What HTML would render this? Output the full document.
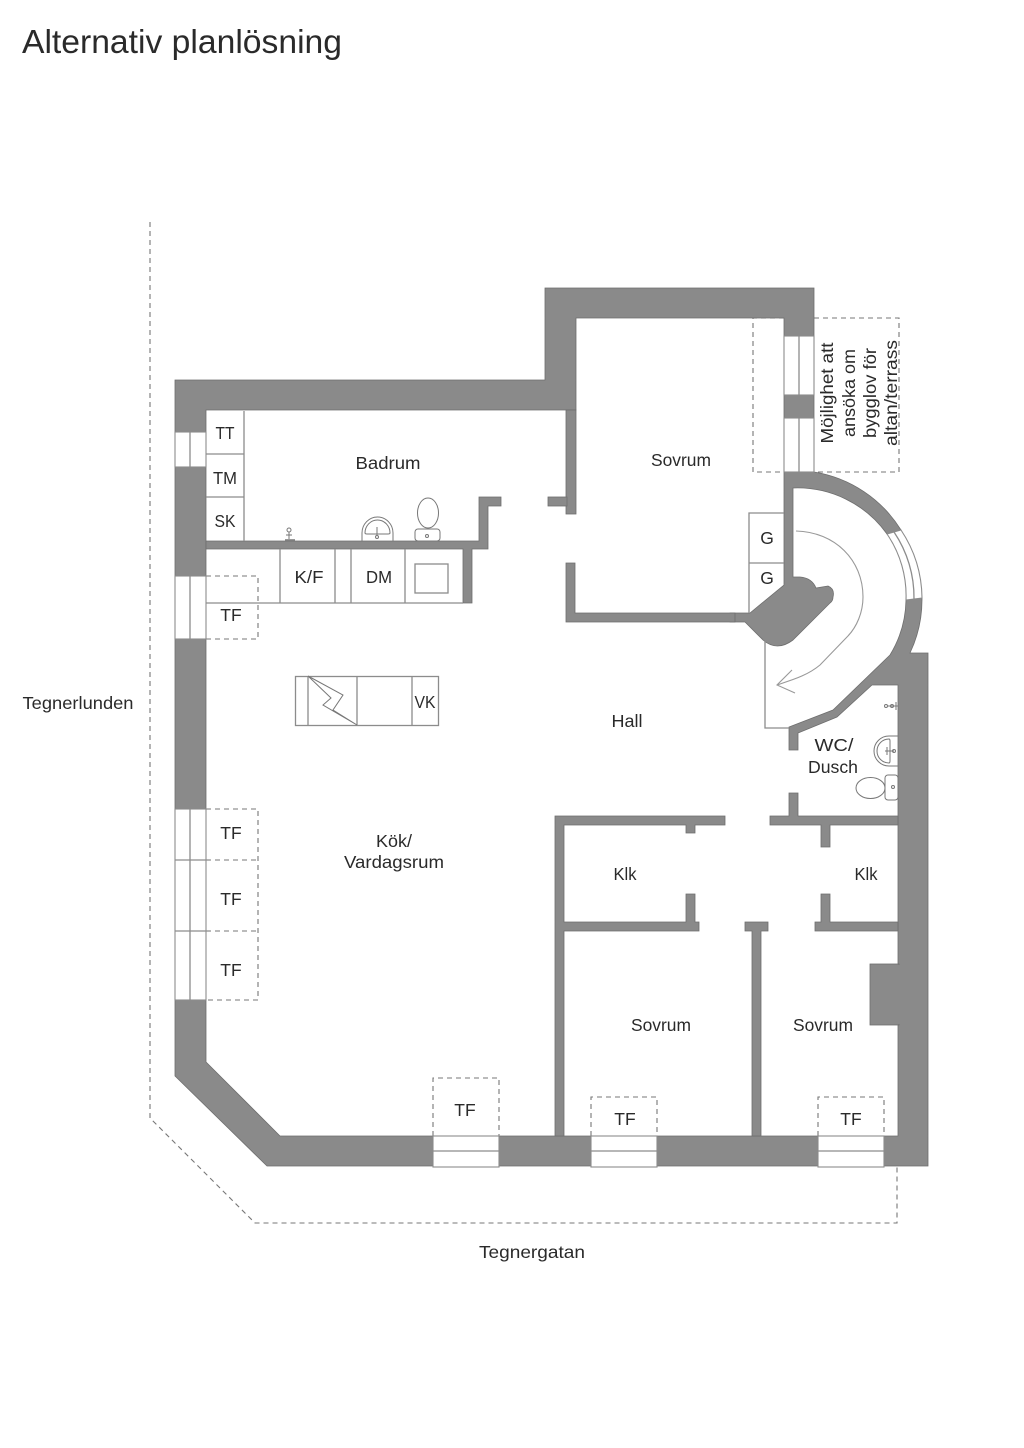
<!DOCTYPE html>
<html><head><meta charset="utf-8"><style>
html,body{margin:0;padding:0;background:#fff}
svg{display:block}
text{font-family:"Liberation Sans",sans-serif;fill:#2a2a2a;font-size:17.5px;text-anchor:middle}
.w{fill:#8a8a8a;stroke:#6e6e6e;stroke-width:.8}
.l{fill:none;stroke:#8c8c8c;stroke-width:1.3}
.f{fill:#fff;stroke:#8c8c8c;stroke-width:1.1}
.d{fill:none;stroke:#777;stroke-width:1.1;stroke-dasharray:5 4}
</style></head><body>
<svg width="1024" height="1448" viewBox="0 0 1024 1448" xmlns="http://www.w3.org/2000/svg">
<rect width="1024" height="1448" fill="#fff"/>
<text x="22" y="53" style="font-size:33px;text-anchor:start" textLength="320" lengthAdjust="spacingAndGlyphs">Alternativ planlösning</text>

<!-- site boundary -->
<path class="d" d="M150 222V1118L255 1223H897V1167"/>

<!-- dashed balcony -->
<path class="d" d="M784 318H753V472H784M814 318H899V472H814"/>
<path class="d" d="M206 576H258V639H206"/>
<path class="d" d="M206 809H258V1000H206M206 860H258M206 931H258"/>
<path class="d" d="M433 1136V1078H499V1136"/>
<path class="d" d="M591 1136V1097H657V1136"/>
<path class="d" d="M818 1136V1097H884V1136"/>

<!-- outer walls -->
<path class="w" d="M175 380H545V288H814V336H784V318H576V410H206V1062L280 1136H898V685H872L837 717L798 733V750H789V727L833 710L890 655A109 109 0 0 0 906 600L922 598A125 125 0 0 1 910 653H928V1166H267L175 1076Z"/>
<!-- window right -->
<rect class="w" x="784" y="395" width="30" height="23"/>
<!-- curved wall upper with pillar -->
<path class="w" d="M784 472H814A126 126 0 0 1 901 530L887 534A110 110 0 0 0 793 488V577H800Q812 578 816 588L828 586Q835 589 833 597Q833 601 830 603L793 640Q777 652 763 640L745 622H730V613H750L784 585Z"/>
<path class="w" d="M566 563H575V613H735V622H566Z"/>
<rect class="w" x="566" y="410" width="10" height="104"/>
<rect class="w" x="548" y="497" width="19" height="9"/>

<!-- bathroom walls -->
<path class="w" d="M206 541H479V497H501V506H488V549H472V603H463V549H206Z"/>

<!-- inner walls -->
<path class="w" d="M555 1136V816H725V825H695V833H686V825H564V922H686V894H695V922H699V931H564V1136Z"/>
<path class="w" d="M745 922H768V931H761V1136H752V931H745Z"/>
<path class="w" d="M770 816H789V793H798V816H898V825H830V847H821V825H770Z"/>
<path class="w" d="M815 922H821V894H830V922H898V931H815Z"/>
<rect class="w" x="870" y="964" width="29" height="61"/>
<rect x="895" y="965" width="6" height="59" fill="#8a8a8a"/>

<!-- windows -->
<g class="f">
<rect x="175" y="432" width="31" height="35"/>
<rect x="175" y="576" width="31" height="63"/>
<rect x="175" y="809" width="31" height="191"/>
<rect x="784" y="336" width="30" height="59"/>
<rect x="784" y="418" width="30" height="54"/>
<rect x="433" y="1136" width="66" height="31"/>
<rect x="591" y="1136" width="66" height="31"/>
<rect x="818" y="1136" width="66" height="31"/>
</g>
<path class="l" d="M190 432V467M190 576V639M190 809V1000M175 860H210M175 931H210M799 336V395M799 418V472M433 1151H499M591 1151H657M818 1151H884"/>
<path class="f" d="M887 534L901 530A125 125 0 0 1 922 598L906 600A109 109 0 0 0 887 534Z"/>
<path class="l" d="M894 532A117 117 0 0 1 914 599"/>

<!-- cabinets -->
<path class="l" d="M244 411V541M206 454H244M206 497H244"/>
<path class="l" d="M206 603H463M280 549V603M335 549V603M351 549V603M405 549V603"/>
<rect class="l" x="415" y="564" width="33" height="29"/>
<path class="l" d="M749 613V513H784M749 563H784"/>
<path class="l" d="M765 640V728H789"/>

<!-- stair swing arrow -->
<path d="M796 531C835 532 863 560 863 597C863 612 857 627 847 637L820 665C808 675 795 679 777 685M792 670L777 685L795 693" fill="none" stroke="#999" stroke-width="1.1"/>

<!-- VK -->
<rect class="l" x="295.500" y="676.500" width="143" height="49"/>
<path class="l" d="M308 676V725M357 676V725M412 676V725"/>
<path d="M308 676L343 695L333 710L357 725L323 705L331 698Z" fill="none" stroke="#777" stroke-width="1"/>

<!-- bathroom fixtures -->
<g fill="none" stroke="#777" stroke-width="1">
<path d="M362 541V533A15.500 16 0 0 1 393 533V541"/>
<path d="M365 533A12.500 13 0 0 1 390 533Q390 534 388 534H367Q365 534 365 533Z"/>
<path d="M377 527V536"/>
<circle cx="377" cy="537" r="1.500"/>
<ellipse cx="428" cy="513" rx="10.500" ry="15"/>
<rect x="415" y="529" width="25" height="12" rx="3"/>
<circle cx="427" cy="536" r="1.500"/>
<circle cx="289" cy="530" r="2"/>
<path d="M289 532V539M286 535H292"/>
<path d="M285 540H295" stroke-width="1.500"/>
<!-- WC fixtures -->
<path d="M898 736H889A15 15 0 0 0 889 766H898"/>
<path d="M889 739A12 12 0 0 0 889 763Q890 763 890 761V741Q890 739 889 739Z"/>
<path d="M885 751H894M887 747V755"/>
<circle cx="894" cy="751" r="1.500"/>
<ellipse cx="870.500" cy="788" rx="14.500" ry="10.500"/>
<rect x="885" y="775" width="13" height="25" rx="3"/>
<circle cx="893" cy="787" r="1.500"/>
<circle cx="886" cy="706" r="1.500"/>
<circle cx="892" cy="706" r="1.500"/>
<path d="M888 706H898M896 702V710"/>
</g>

<!-- labels -->
<text x="388" y="469" textLength="65" lengthAdjust="spacingAndGlyphs">Badrum</text>
<text x="681" y="466" textLength="60" lengthAdjust="spacingAndGlyphs">Sovrum</text>
<text x="627" y="727" textLength="31" lengthAdjust="spacingAndGlyphs">Hall</text>
<text x="394" y="847" textLength="36" lengthAdjust="spacingAndGlyphs">Kök/</text>
<text x="394" y="868" textLength="100" lengthAdjust="spacingAndGlyphs">Vardagsrum</text>
<text x="625" y="880" textLength="23" lengthAdjust="spacingAndGlyphs">Klk</text>
<text x="866" y="880" textLength="23" lengthAdjust="spacingAndGlyphs">Klk</text>
<text x="661" y="1031" textLength="60" lengthAdjust="spacingAndGlyphs">Sovrum</text>
<text x="823" y="1031" textLength="60" lengthAdjust="spacingAndGlyphs">Sovrum</text>
<text x="834" y="751" textLength="39" lengthAdjust="spacingAndGlyphs">WC/</text>
<text x="833" y="773" textLength="50" lengthAdjust="spacingAndGlyphs">Dusch</text>
<text x="225" y="439" textLength="19" lengthAdjust="spacingAndGlyphs">TT</text>
<text x="225" y="484" textLength="24" lengthAdjust="spacingAndGlyphs">TM</text>
<text x="225" y="527" textLength="21" lengthAdjust="spacingAndGlyphs">SK</text>
<text x="309" y="583" textLength="29" lengthAdjust="spacingAndGlyphs">K/F</text>
<text x="379" y="583" textLength="26" lengthAdjust="spacingAndGlyphs">DM</text>
<text x="767" y="544">G</text>
<text x="767" y="584">G</text>
<text x="425" y="708" textLength="21" lengthAdjust="spacingAndGlyphs">VK</text>
<text x="231" y="621">TF</text>
<text x="231" y="839">TF</text>
<text x="231" y="905">TF</text>
<text x="231" y="976">TF</text>
<text x="465" y="1116">TF</text>
<text x="625" y="1125">TF</text>
<text x="851" y="1125">TF</text>
<text x="78" y="709" textLength="111" lengthAdjust="spacingAndGlyphs">Tegnerlunden</text>
<text x="532" y="1258" textLength="106" lengthAdjust="spacingAndGlyphs">Tegnergatan</text>
<g>
<text transform="translate(833 393) rotate(-90)" textLength="101" lengthAdjust="spacingAndGlyphs">Möjlighet att</text>
<text transform="translate(855 393) rotate(-90)" textLength="88" lengthAdjust="spacingAndGlyphs">ansöka om</text>
<text transform="translate(876 393) rotate(-90)" textLength="90" lengthAdjust="spacingAndGlyphs">bygglov för</text>
<text transform="translate(897 393) rotate(-90)" textLength="106" lengthAdjust="spacingAndGlyphs">altan/terrass</text>
</g>
</svg>
</body></html>
